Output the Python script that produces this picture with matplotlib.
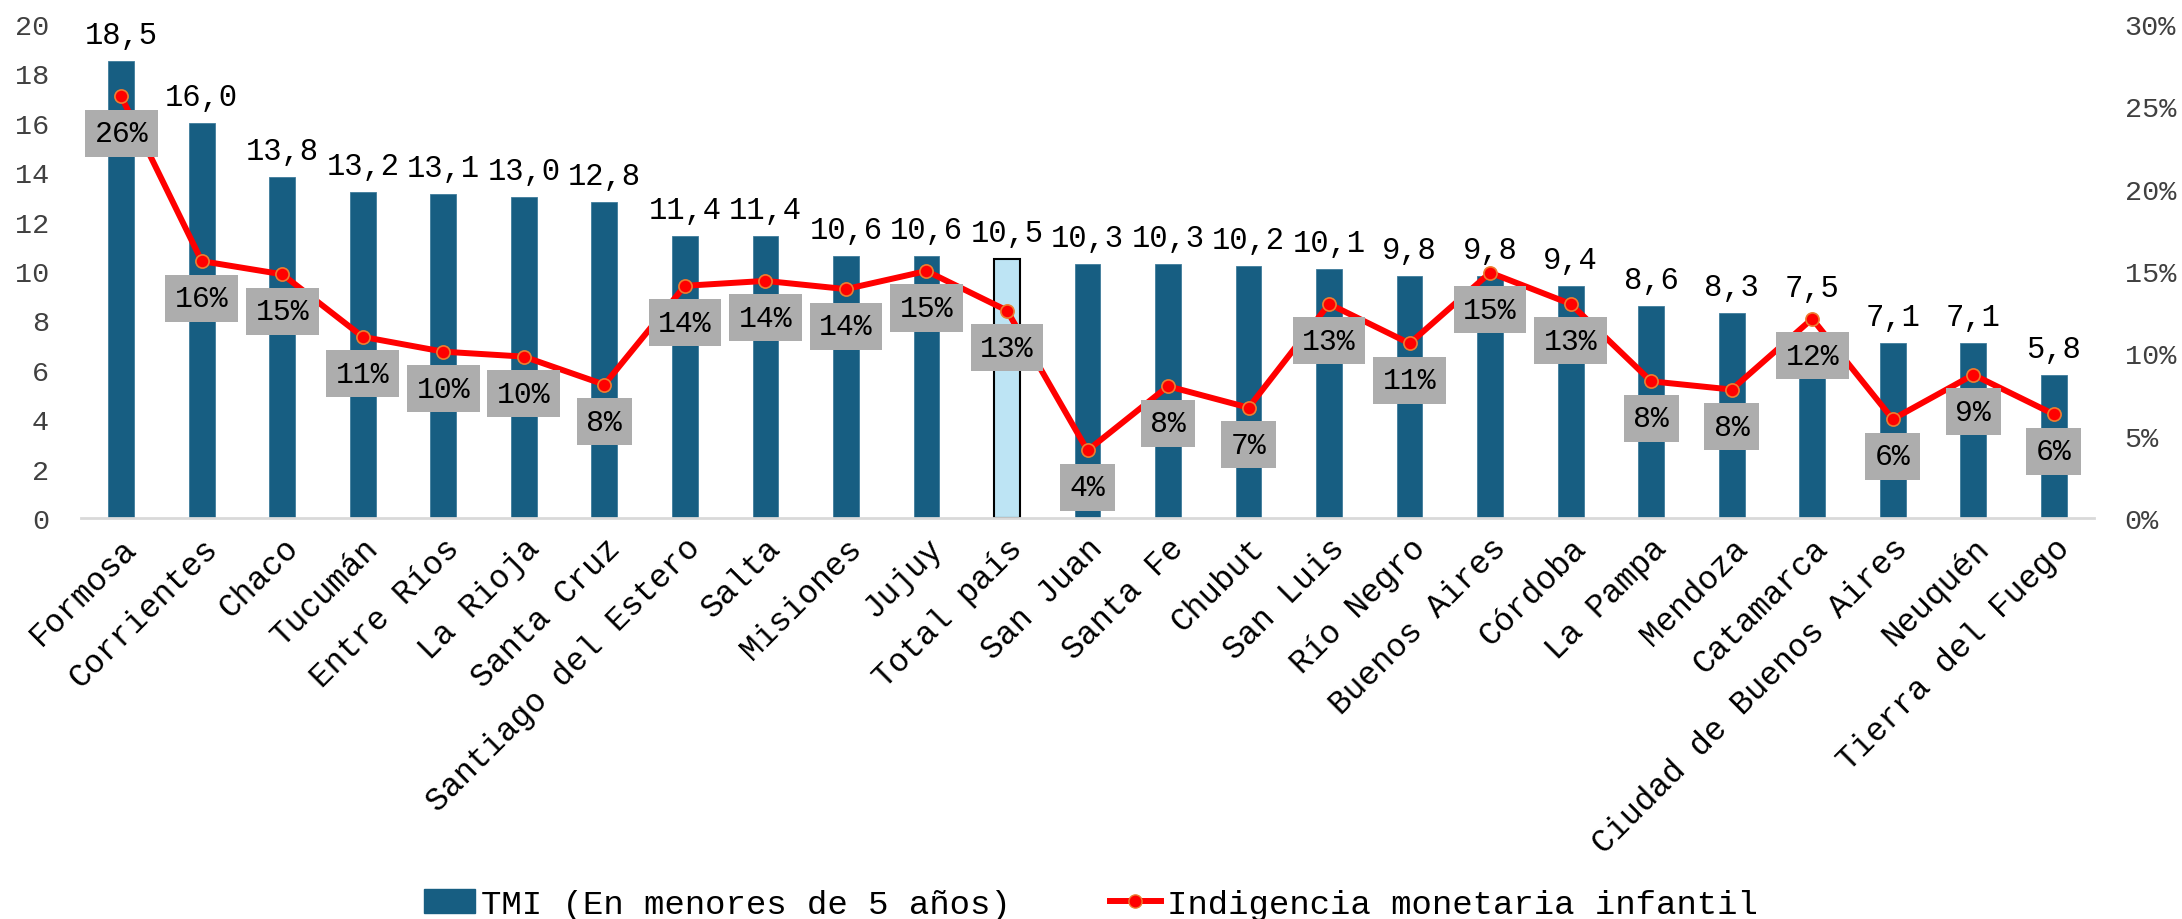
import matplotlib
matplotlib.use('Agg')
import matplotlib.pyplot as plt
import matplotlib.ticker as mtick
from matplotlib.lines import Line2D
from matplotlib.patches import Patch

plt.rcParams['font.family'] = ['Liberation Mono', 'DejaVu Sans Mono']

provincias = ['Formosa', 'Corrientes', 'Chaco', 'Tucumán', 'Entre Ríos', 'La Rioja',
              'Santa Cruz', 'Santiago del Estero', 'Salta', 'Misiones', 'Jujuy',
              'Total país', 'San Juan', 'Santa Fe', 'Chubut', 'San Luis', 'Río Negro',
              'Buenos Aires', 'Córdoba', 'La Pampa', 'Mendoza', 'Catamarca',
              'Ciudad de Buenos Aires', 'Neuquén', 'Tierra del Fuego']
tmi = [18.5, 16.0, 13.8, 13.2, 13.1, 13.0, 12.8, 11.4, 11.4, 10.6, 10.6, 10.5, 10.3,
       10.3, 10.2, 10.1, 9.8, 9.8, 9.4, 8.6, 8.3, 7.5, 7.1, 7.1, 5.8]
indigencia = [25.6, 15.6, 14.8, 11.0, 10.1, 9.8, 8.1, 14.1, 14.4, 13.9, 15.0, 12.6, 4.1,
              8.0, 6.7, 13.0, 10.6, 14.9, 13.0, 8.3, 7.8, 12.1, 6.0, 8.7, 6.3]

dark_blue = '#175E82'
light_blue = '#BDE4F4'
red = '#FF0000'
grey_box = '#ADADAD'

fig = plt.figure(figsize=(21.82, 9.2), dpi=100)
ax = fig.add_axes([0.0371, 0.4359, 0.9226, 0.5369])
ax2 = ax.twinx()

x = list(range(len(provincias)))
colors = [light_blue if p == 'Total país' else dark_blue for p in provincias]
edges = ['black' if p == 'Total país' else '#3F7C9C' for p in provincias]
lws = [1.5 if p == 'Total país' else 0.6 for p in provincias]
ax.bar(x, tmi, width=0.32, color=colors, edgecolor=edges, linewidth=lws, zorder=2)

ax.set_ylim(0, 20)
ax.set_yticks(range(0, 21, 2))
ax.set_xlim(-0.5, len(provincias) - 0.5)
ax.set_xticks(x)
ax.set_xticklabels(provincias, fontsize=23.5, rotation=45, ha='right', va='top',
                   rotation_mode='anchor')
ax.tick_params(axis='x', length=0, pad=10)
ax.tick_params(axis='y', length=0, pad=23, labelsize=20.5, labelcolor='#404040')

for s in ['top', 'right', 'left']:
    ax.spines[s].set_visible(False)
    ax2.spines[s].set_visible(False)
ax.spines['bottom'].set_color('#D9D9D9')
ax.spines['bottom'].set_linewidth(2)
ax2.spines['bottom'].set_visible(False)

# etiquetas de valor sobre las barras
for i, v in enumerate(tmi):
    lift = 30 if provincias[i] == 'Catamarca' else 11
    ax.annotate('{:.1f}'.format(v).replace('.', ','), (i, v), xytext=(0, lift * 0.72),
                textcoords='offset points', ha='center', va='bottom', fontsize=22,
                color='black', zorder=3)

ax2.plot(x, indigencia, color=red, linewidth=4.3, marker='o', markersize=9.5,
         markerfacecolor=red, markeredgecolor='#ED7D31', markeredgewidth=1.2, zorder=4)
ax2.set_ylim(0, 30)
ax2.set_yticks(range(0, 31, 5))
ax2.yaxis.set_major_formatter(mtick.FuncFormatter(lambda v, p: '{:d}%'.format(int(v))))
ax2.tick_params(axis='y', length=0, pad=22, labelsize=20.5, labelcolor='#404040')

for i, p in enumerate(indigencia):
    ax2.annotate('{:d}%'.format(int(p + 0.5)), (i, p), xytext=(0, -37 * 0.72),
                 textcoords='offset points', ha='center', va='center', fontsize=21.5,
                 color='black', zorder=5,
                 bbox=dict(boxstyle='square,pad=0.32', facecolor=grey_box, edgecolor='none'))

handles = [Patch(facecolor=dark_blue, edgecolor=dark_blue),
           Line2D([0], [0], color=red, linewidth=4.3, marker='o', markersize=9.5,
                  markerfacecolor=red, markeredgecolor='#ED7D31')]
fig.legend(handles, ['TMI (En menores de 5 años)', 'Indigencia monetaria infantil'],
           loc='center', bbox_to_anchor=(0.5, 0.016), ncol=2, frameon=False,
           fontsize=24.5, handlelength=1.5, handletextpad=0.18, columnspacing=2.9)

fig.savefig('out.png', dpi=100)
